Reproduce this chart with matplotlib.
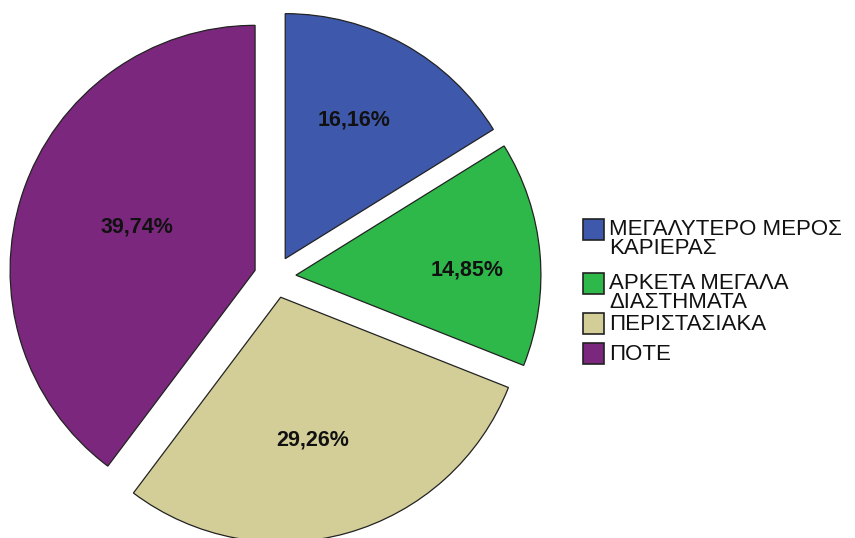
import matplotlib
matplotlib.use("Agg")
import matplotlib.pyplot as plt
from matplotlib.patches import Rectangle

categories = ["ΜΕΓΑΛΥΤΕΡΟ ΜΕΡΟΣ\nΚΑΡΙΕΡΑΣ", "ΑΡΚΕΤΑ ΜΕΓΑΛΑ\nΔΙΑΣΤΗΜΑΤΑ", "ΠΕΡΙΣΤΑΣΙΑΚΑ", "ΠΟΤΕ"]
values = [16.16, 14.85, 29.26, 39.74]
colors = ["#3E58AC", "#2EB84A", "#D3CE97", "#7B277D"]

W, H = 855, 538
fig = plt.figure(figsize=(W / 100, H / 100), dpi=100)
ax = fig.add_axes([0, 0, 1, 1])

cx, cy = 275, H - 277
R = 245
ax.pie(values, colors=colors, startangle=90, counterclock=False,
       radius=R, center=(cx, cy), explode=[21] * 4,
       wedgeprops=dict(edgecolor="#222222", linewidth=0.9))
ax.set_xlim(0, W)
ax.set_ylim(0, H)
ax.set_aspect("auto")
ax.axis("off")

label_px = [(354, 120), (467, 270), (313, 440), (137, 227)]
for v, (px, py) in zip(values, label_px):
    ax.text(px, H - py, f"{v:.2f}%".replace(".", ","), ha="center", va="center",
            fontsize=15.5, fontweight="bold", family="Liberation Sans", color="#111111")

# legend
sq_top = [219, 273, 313, 343]
txt_top = [218, 272, 313, 343]
for cat, col, st, tt in zip(categories, colors, sq_top, txt_top):
    ax.add_patch(Rectangle((583, H - st - 21), 21, 21, facecolor=col,
                           edgecolor="#222222", linewidth=1.2))
    ax.text(609, H - tt - 1, cat, ha="left", va="top", fontsize=16,
            family="Liberation Sans", color="#111111", linespacing=0.85)

fig.savefig("out.png", dpi=100)
